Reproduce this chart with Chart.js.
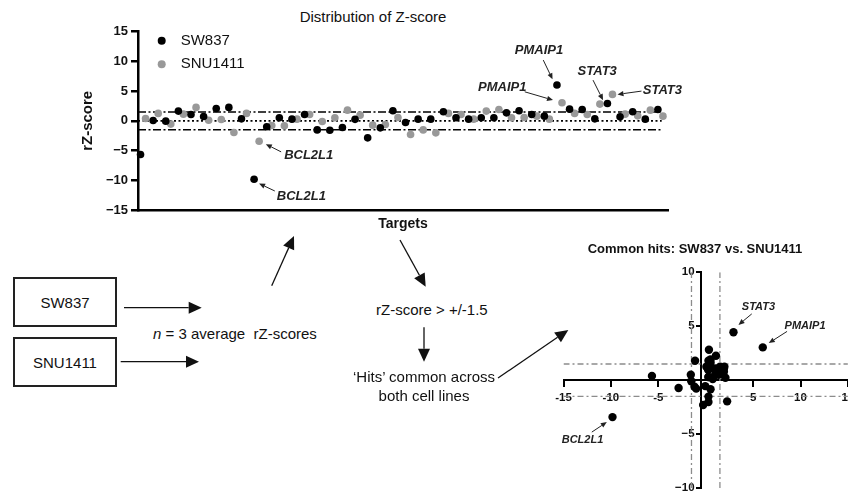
<!DOCTYPE html>
<html lang="en">
<head>
<meta charset="UTF-8">
<title>Distribution of Z-score</title>
<script src="https://cdn.jsdelivr.net/npm/chart.js@4.4.1/dist/chart.umd.min.js"></script>
<style>
    body {
        margin: 0;
        width: 848px;
        height: 498px;
        overflow: hidden;
        position: relative;
        background: #fff;
        color: #111;
        font-family: "Liberation Sans", Arial, sans-serif;
    }
    canvas { position: absolute; }
    #topChart { left: 0; top: 0; }
    #hitsChart { left: 520px; top: 230px; }
    .txt {
        position: absolute;
        white-space: nowrap;
        font-size: 15px;
        line-height: 18px;
    }
    .box {
        position: absolute;
        left: 13px;
        width: 100px;
        height: 46px;
        border: 2px solid #222;
        font-size: 15px;
        display: flex;
        align-items: center;
        justify-content: center;
    }
    #arrows { position: absolute; left: 0; top: 0; pointer-events: none; }
</style>
</head>
<body>
    <div class="txt" style="left:203px; width:340px; top:8px; text-align:center;">Distribution of Z-score</div>
    <canvas id="topChart" width="700" height="240"></canvas>
    <canvas id="hitsChart" width="360" height="268"></canvas>

    <div class="box" style="top:277px;">SW837</div>
    <div class="box" style="top:337px;">SNU1411</div>
    <div class="txt" style="left:153px; top:325px;"><i>n</i> = 3 average&nbsp; rZ-scores</div>
    <div class="txt" style="left:376px; top:301px;">rZ-score &gt; +/-1.5</div>
    <div class="txt" style="left:324px; width:200px; top:368px; text-align:center; line-height:18.5px;">‘Hits’ common across<br>both cell lines</div>
    <div class="txt" style="left:545px; width:300px; top:240px; text-align:center; font-size:13px; font-weight:bold;">Common hits: SW837 vs. SNU1411</div>

    <svg id="arrows" width="848" height="498"></svg>

<script>
    // average rZ-score per target (n = 3), same target order in both cell lines
    const sw837 = [-5.67, 0.07, -0.05, 1.64, 1.08, 0.74, 2.08, 2.26, 0.34, -9.83,
                   -1.0, 0.51, 0.29, 1.08, -1.52, -1.57, -1.12, 0.25, -2.86, -1.18,
                   1.69, -0.27, 0.29, 0.29, 1.52, 0.51, 0.29, 0.51, 0.51, 1.35,
                   1.69, 1.08, 0.79, 6.02, 1.97, 1.92, 0.34, 2.93, 0.67, 1.52,
                   0.29, 1.92];
    const snu1411 = [0.4, 1.25, -0.55, 1.13, 2.26, 0.1, 0.23, -1.96, 1.25, -3.42,
                     -0.78, -0.84, 0.29, 1.08, -0.1, 0.51, 1.8, 0.96, -0.72, -0.61,
                     0.57, -2.3, -1.52, -2.02, 1.25, 1.08, 0.29, 1.64, 1.92, 0.51,
                     0.57, 0.79, 0.29, 3.04, 1.25, 1.08, 2.82, 4.45, 1.13, 0.84,
                     1.8, 0.79];
    const targets = sw837.map((_, i) => i);
    const hitCutoff = 1.5;

    const topYTicks = [-15, -10, -5, 0, 5, 10, 15];
    const hitsXTicks = [-15, -10, -5, 5, 10, 15];
    const hitsYTicks = [-10, -5, 5, 10];

    // labelled genes (index into targets)
    const BCL2L1 = 9, PMAIP1 = 33, STAT3 = 37;

    const FONT = '"Liberation Sans", Arial, sans-serif';
    Chart.defaults.font.family = FONT;
    Chart.defaults.color = '#111';

    const minus = v => String(v).replace('-', '\u2212');

    function canvasArrow(ctx, x0, y0, x1, y1, len, half) {
        const a = Math.atan2(y1 - y0, x1 - x0);
        const bx = x1 - len * Math.cos(a), by = y1 - len * Math.sin(a);
        ctx.beginPath();
        ctx.moveTo(x0, y0);
        ctx.lineTo(bx, by);
        ctx.stroke();
        ctx.beginPath();
        ctx.moveTo(x1, y1);
        ctx.lineTo(bx + half * Math.sin(a), by - half * Math.cos(a));
        ctx.lineTo(bx - half * Math.sin(a), by + half * Math.cos(a));
        ctx.closePath();
        ctx.fill();
    }

    // gene labels with small arrows, placed relative to the point
    function notes(items, font) {
        return {
            id: 'notes',
            afterDatasetsDraw(chart) {
                const ctx = chart.ctx;
                ctx.save();
                ctx.fillStyle = '#222';
                ctx.strokeStyle = '#222';
                ctx.lineWidth = 1;
                ctx.font = font;
                ctx.textBaseline = 'middle';
                items.forEach(n => {
                    const p = chart.getDatasetMeta(n.ds).data[n.i];
                    canvasArrow(ctx, p.x + n.tail[0], p.y + n.tail[1], p.x + n.tip[0], p.y + n.tip[1], 6, 2.6);
                    ctx.textAlign = n.align;
                    ctx.fillText(n.text, p.x + n.at[0], p.y + n.at[1]);
                });
                ctx.restore();
            }
        };
    }

    const topLegend = {
        id: 'topLegend',
        afterDraw(chart) {
            const ctx = chart.ctx;
            ctx.save();
            ctx.font = '15px ' + FONT;
            ctx.textBaseline = 'middle';
            ctx.textAlign = 'left';
            [[40.7, 0], [64.3, 1]].forEach(([y, d]) => {
                const ds = chart.data.datasets[d];
                ctx.fillStyle = ds.backgroundColor;
                ctx.beginPath();
                ctx.arc(161.7, y, 4, 0, Math.PI * 2);
                ctx.fill();
                ctx.fillStyle = '#111';
                ctx.fillText(ds.label, 180.7, y);
            });
            ctx.restore();
        }
    };

    const topLine = (y, dash) => ({
        data: [{ x: -0.2, y: y }, { x: 41.3, y: y }],
        showLine: true, borderColor: '#000', borderWidth: 1.6, borderDash: dash,
        pointRadius: 0, order: 2
    });

    new Chart(document.getElementById('topChart'), {
        type: 'scatter',
        data: {
            datasets: [
                { label: 'SW837', data: sw837.map((v, i) => ({ x: targets[i], y: v })),
                  backgroundColor: '#000', borderWidth: 0, pointRadius: 3.8, order: 0, clip: false },
                { label: 'SNU1411', data: snu1411.map((v, i) => ({ x: targets[i] + 0.4, y: v })),
                  backgroundColor: '#999', borderWidth: 0, pointRadius: 3.8, order: 1, clip: false },
                topLine(hitCutoff, [8, 2.5, 2, 2.5]),
                topLine(-hitCutoff, [8, 2.5, 2, 2.5]),
                topLine(0, [2, 2.5])
            ]
        },
        options: {
            responsive: false,
            animation: false,
            events: [],
            layout: { padding: { left: 79, top: 31.7, right: 32, bottom: 0 } },
            plugins: { legend: { display: false }, tooltip: { enabled: false } },
            scales: {
                x: {
                    type: 'linear', min: -0.2, max: 41.8,
                    grid: { display: false },
                    border: { color: '#000', width: 2.5 },
                    ticks: { display: false },
                    title: { display: true, text: 'Targets', color: '#111',
                             font: { size: 14, weight: 'bold' }, padding: { top: 0, bottom: 7.6 } },
                    afterFit: s => { s.height = 30; }
                },
                y: {
                    min: -15, max: 15,
                    afterBuildTicks: s => { s.ticks = topYTicks.map(v => ({ value: v })); },
                    grid: { drawOnChartArea: false, tickLength: 7, lineWidth: 2.5, color: '#000' },
                    border: { color: '#000', width: 2.5 },
                    ticks: { font: { size: 13, weight: 'bold' }, color: '#111', padding: 3, callback: minus },
                    title: { display: true, text: 'rZ-score', color: '#111',
                             font: { size: 15, weight: 'bold' }, padding: 0 },
                    afterFit: s => { s.width = 59; }
                }
            }
        },
        plugins: [topLegend, notes([
            { ds: 1, i: BCL2L1, text: 'BCL2L1', align: 'left',   at: [25, 14],       tail: [22, 10.7],    tip: [6.7, 3] },
            { ds: 0, i: BCL2L1, text: 'BCL2L1', align: 'left',   at: [22.7, 17],     tail: [20.7, 11.7],  tip: [5, 4.3] },
            { ds: 0, i: PMAIP1, text: 'PMAIP1', align: 'center', at: [-18, -35],     tail: [-13.7, -25],  tip: [-4.4, -5.7] },
            { ds: 1, i: PMAIP1, text: 'PMAIP1', align: 'center', at: [-59.8, -15.7], tail: [-37.3, -11],  tip: [-9, -2.7] },
            { ds: 0, i: STAT3,  text: 'STAT3',  align: 'center', at: [-10.2, -31.6], tail: [-14.4, -23.3], tip: [-4.4, -3.3] },
            { ds: 1, i: STAT3,  text: 'STAT3',  align: 'left',   at: [30.3, -4.3],   tail: [29, -3.3],    tip: [5, 0] }
        ], 'italic bold 13px ' + FONT)]
    });

    const hitsLine = pts => ({
        data: pts, showLine: true, borderColor: '#8c8c8c', borderWidth: 1.3,
        borderDash: [6, 3, 2, 3], pointRadius: 0, order: 1
    });
    const hideZero = c => (c.tick && c.tick.value === 0 ? 'rgba(0,0,0,0)' : '#000');

    new Chart(document.getElementById('hitsChart'), {
        type: 'scatter',
        data: {
            datasets: [
                { label: 'SW837 vs. SNU1411', data: sw837.map((v, i) => ({ x: v, y: snu1411[i] })),
                  backgroundColor: '#000', borderWidth: 0, pointRadius: 4.2, order: 0, clip: false },
                hitsLine([{ x: -hitCutoff, y: -10 }, { x: -hitCutoff, y: 10 }]),
                hitsLine([{ x: hitCutoff, y: -10 }, { x: hitCutoff, y: 10 }]),
                hitsLine([{ x: -15, y: hitCutoff }, { x: 15, y: hitCutoff }]),
                hitsLine([{ x: -15, y: -hitCutoff }, { x: 15, y: -hitCutoff }])
            ]
        },
        options: {
            responsive: false,
            animation: false,
            events: [],
            layout: { padding: { left: 43.5, top: 42.3, right: 32.1, bottom: 6.3 } },
            plugins: { legend: { display: false }, tooltip: { enabled: false } },
            scales: {
                x: {
                    min: -15, max: 15, position: { y: 0 }, z: 1,
                    afterBuildTicks: s => { s.ticks = hitsXTicks.map(v => ({ value: v })); },
                    grid: { drawOnChartArea: false, tickLength: 6, lineWidth: 2, color: hideZero },
                    border: { color: '#000', width: 2 },
                    ticks: { font: { size: 11.5, weight: 'bold' }, color: '#111', padding: 5, maxRotation: 0,
                             autoSkip: false, callback: v => String(v),
                             showLabelBackdrop: true, backdropColor: '#fff', backdropPadding: 1 }
                },
                y: {
                    min: -10, max: 10, position: { x: -0.5 },
                    afterBuildTicks: s => { s.ticks = hitsYTicks.map(v => ({ value: v })); },
                    grid: { drawOnChartArea: false, tickLength: 4, lineWidth: 2, color: hideZero },
                    border: { color: '#000', width: 2 },
                    // a positioned axis puts labels flush with the line, so pad with spaces
                    ticks: { font: { size: 11.5, weight: 'bold' }, color: '#111', callback: v => minus(v) + '  ' }
                }
            }
        },
        plugins: [notes([
            { ds: 0, i: STAT3,  text: 'STAT3',  align: 'center', at: [25, -25],    tail: [18.3, -18.3], tip: [5, -7.3] },
            { ds: 0, i: PMAIP1, text: 'PMAIP1', align: 'center', at: [42.3, -21],  tail: [24.3, -16],   tip: [6, -4.3] },
            { ds: 0, i: BCL2L1, text: 'BCL2L1', align: 'center', at: [-30, 23.3],  tail: [-20.7, 15],   tip: [-5.7, 5] }
        ], 'italic bold 11px ' + FONT)]
    });

    // flow-chart arrows
    const flowArrows = [
        [124, 307.7, 201.7, 307.7],
        [120.7, 361.7, 199, 361.7],
        [271.7, 285.7, 294, 236],
        [400, 240, 425.7, 286.7],
        [424, 327.3, 424, 361.7],
        [498, 378, 568.3, 330]
    ];
    const svg = document.getElementById('arrows');
    const NS = 'http://www.w3.org/2000/svg';
    flowArrows.forEach(([x0, y0, x1, y1]) => {
        const a = Math.atan2(y1 - y0, x1 - x0), len = 13, half = 6;
        const bx = x1 - len * Math.cos(a), by = y1 - len * Math.sin(a);
        const line = document.createElementNS(NS, 'line');
        line.setAttribute('x1', x0); line.setAttribute('y1', y0);
        line.setAttribute('x2', bx); line.setAttribute('y2', by);
        line.setAttribute('stroke', '#111'); line.setAttribute('stroke-width', 1.3);
        svg.appendChild(line);
        const head = document.createElementNS(NS, 'polygon');
        head.setAttribute('points', [
            [x1, y1],
            [bx + half * Math.sin(a), by - half * Math.cos(a)],
            [bx - half * Math.sin(a), by + half * Math.cos(a)]
        ].map(p => p.join(',')).join(' '));
        head.setAttribute('fill', '#111');
        svg.appendChild(head);
    });
</script>
</body>
</html>
